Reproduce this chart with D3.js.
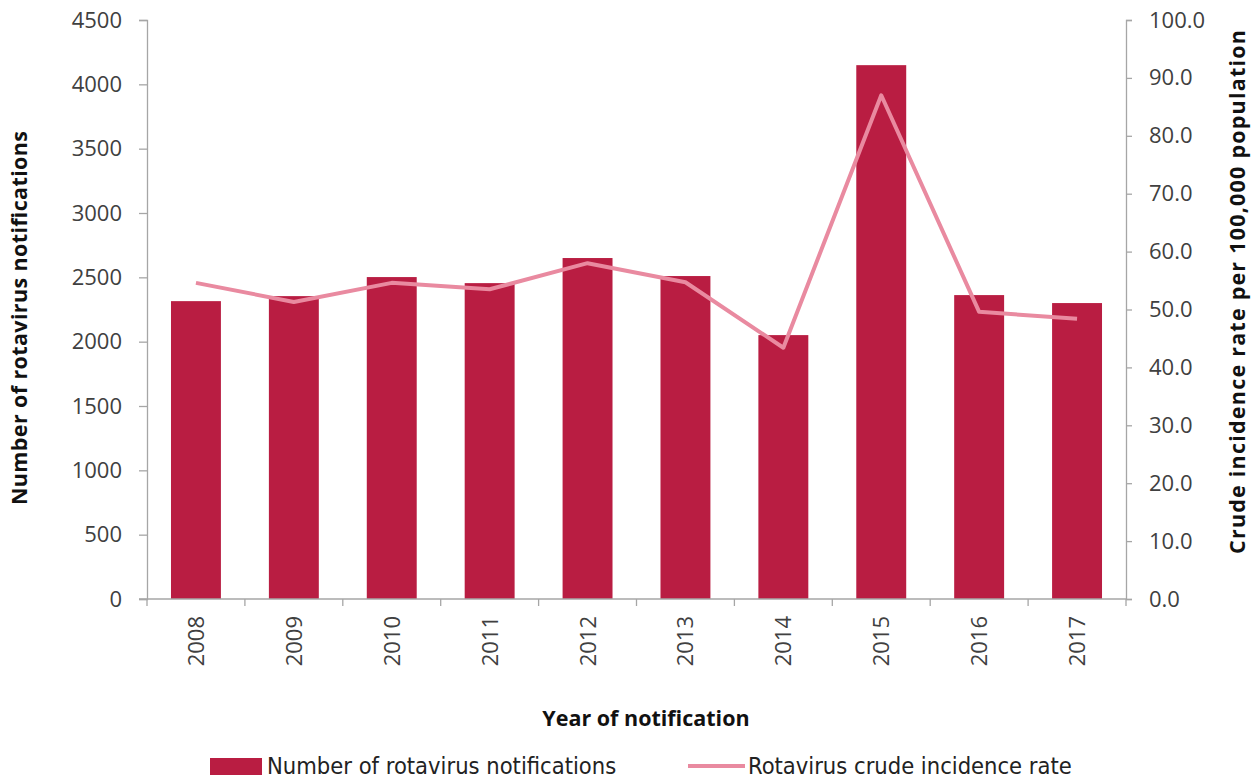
<!DOCTYPE html>
<html>
<head>
    <meta charset="utf-8">
    <title>Rotavirus notifications</title>
    <script src="https://d3js.org/d3.v7.min.js"></script>
    <style>
        body {
            margin: 0;
            background: #fff;
        }
        svg {
            display: block;
        }
        .tick text {
            font-family: "Open Sans", sans-serif;
            font-size: 22px;
            fill: #404040;
        }
        .axis path, .axis line {
            stroke: #a6a6a6;
            stroke-width: 1.3px;
        }
        .axis-title {
            font-family: "Open Sans", sans-serif;
            font-weight: bold;
            font-size: 21.5px;
            fill: #111;
        }
        .legend-text {
            font-family: "Liberation Sans Narrow", "DejaVu Sans Condensed", sans-serif;
            font-size: 23.5px;
            fill: #222;
        }
    </style>
</head>
<body>
<svg width="1254" height="780"></svg>
<script>
    // data
    const years = ["2008", "2009", "2010", "2011", "2012", "2013", "2014", "2015", "2016", "2017"];
    const notifications = [2315, 2354, 2502, 2455, 2650, 2510, 2051, 4149, 2362, 2300];
    const incidenceRate = [54.6, 51.3, 54.6, 53.5, 58.0, 54.7, 43.4, 87.0, 49.6, 48.4];
    const leftTicks = [0, 500, 1000, 1500, 2000, 2500, 3000, 3500, 4000, 4500];
    const rightTicks = [0, 10, 20, 30, 40, 50, 60, 70, 80, 90, 100];

    const barColor = "#b91d42";
    const lineColor = "#e98aa0";

    const svg = d3.select("svg");
    const margin = {left: 147, right: 1126, top: 20, bottom: 599};

    const x = d3.scaleBand()
        .domain(years)
        .range([margin.left, margin.right])
        .paddingInner(0.49)
        .paddingOuter(0.245);

    const yLeft = d3.scaleLinear().domain([0, 4500]).range([margin.bottom, margin.top]);
    const yRight = d3.scaleLinear().domain([0, 100]).range([margin.bottom, margin.top]);

    // bars
    svg.append("g")
        .selectAll("rect")
        .data(years)
        .enter()
        .append("rect")
        .attr("x", d => x(d))
        .attr("width", x.bandwidth())
        .attr("y", (d, i) => yLeft(notifications[i]))
        .attr("height", (d, i) => yLeft(0) - yLeft(notifications[i]))
        .attr("fill", barColor);

    // line
    const line = d3.line()
        .x((d, i) => x(years[i]) + x.bandwidth() / 2)
        .y(d => yRight(d));

    svg.append("path")
        .datum(incidenceRate)
        .attr("d", line)
        .attr("fill", "none")
        .attr("stroke", lineColor)
        .attr("stroke-width", 4)
        .attr("stroke-linejoin", "round");

    // left axis
    svg.append("g")
        .attr("class", "axis")
        .attr("transform", `translate(${margin.left},0)`)
        .call(d3.axisLeft(yLeft).tickValues(leftTicks).tickSize(8).tickPadding(17).tickFormat(d3.format("d")));

    // right axis
    svg.append("g")
        .attr("class", "axis")
        .attr("transform", `translate(${margin.right},0)`)
        .call(d3.axisRight(yRight).tickValues(rightTicks).tickSize(6).tickPadding(17).tickFormat(d3.format(".1f")));

    // x axis, ticks on category boundaries
    const xAxis = svg.append("g")
        .attr("class", "axis")
        .attr("transform", `translate(0,${margin.bottom})`);
    xAxis.append("line")
        .attr("x1", margin.left - 8).attr("x2", margin.right)
        .attr("y1", 0).attr("y2", 0);
    const step = x.step();
    xAxis.selectAll(".bound")
        .data(d3.range(years.length + 1))
        .enter()
        .append("line")
        .attr("x1", i => margin.left + i * step)
        .attr("x2", i => margin.left + i * step)
        .attr("y1", 0).attr("y2", 7);
    xAxis.selectAll(".tick")
        .data(years)
        .enter()
        .append("g")
        .attr("class", "tick")
        .attr("transform", d => `translate(${x(d) + x.bandwidth() / 2 + 8},17) rotate(-90)`)
        .append("text")
        .attr("text-anchor", "end")
        .text(d => d);

    // axis titles
    svg.append("text")
        .attr("class", "axis-title")
        .attr("transform", "translate(27,318) rotate(-90)")
        .attr("text-anchor", "middle")
        .attr("textLength", 374)
        .text("Number of rotavirus notifications");

    svg.append("text")
        .attr("class", "axis-title")
        .attr("transform", "translate(1245,292) rotate(-90)")
        .attr("text-anchor", "middle")
        .attr("textLength", 524)
        .text("Crude incidence rate per 100,000 population");

    svg.append("text")
        .attr("class", "axis-title")
        .attr("x", 646)
        .attr("y", 726)
        .attr("text-anchor", "middle")
        .text("Year of notification");

    // legend
    const legend = svg.append("g");
    legend.append("rect")
        .attr("x", 210).attr("y", 758)
        .attr("width", 52).attr("height", 17)
        .attr("fill", barColor);
    legend.append("text")
        .attr("class", "legend-text")
        .attr("x", 267).attr("y", 774)
        .text("Number of rotavirus notifications");
    legend.append("line")
        .attr("x1", 688).attr("x2", 745)
        .attr("y1", 766).attr("y2", 766)
        .attr("stroke", lineColor)
        .attr("stroke-width", 4);
    legend.append("text")
        .attr("class", "legend-text")
        .attr("x", 748).attr("y", 774)
        .text("Rotavirus crude incidence rate");
</script>
</body>
</html>
